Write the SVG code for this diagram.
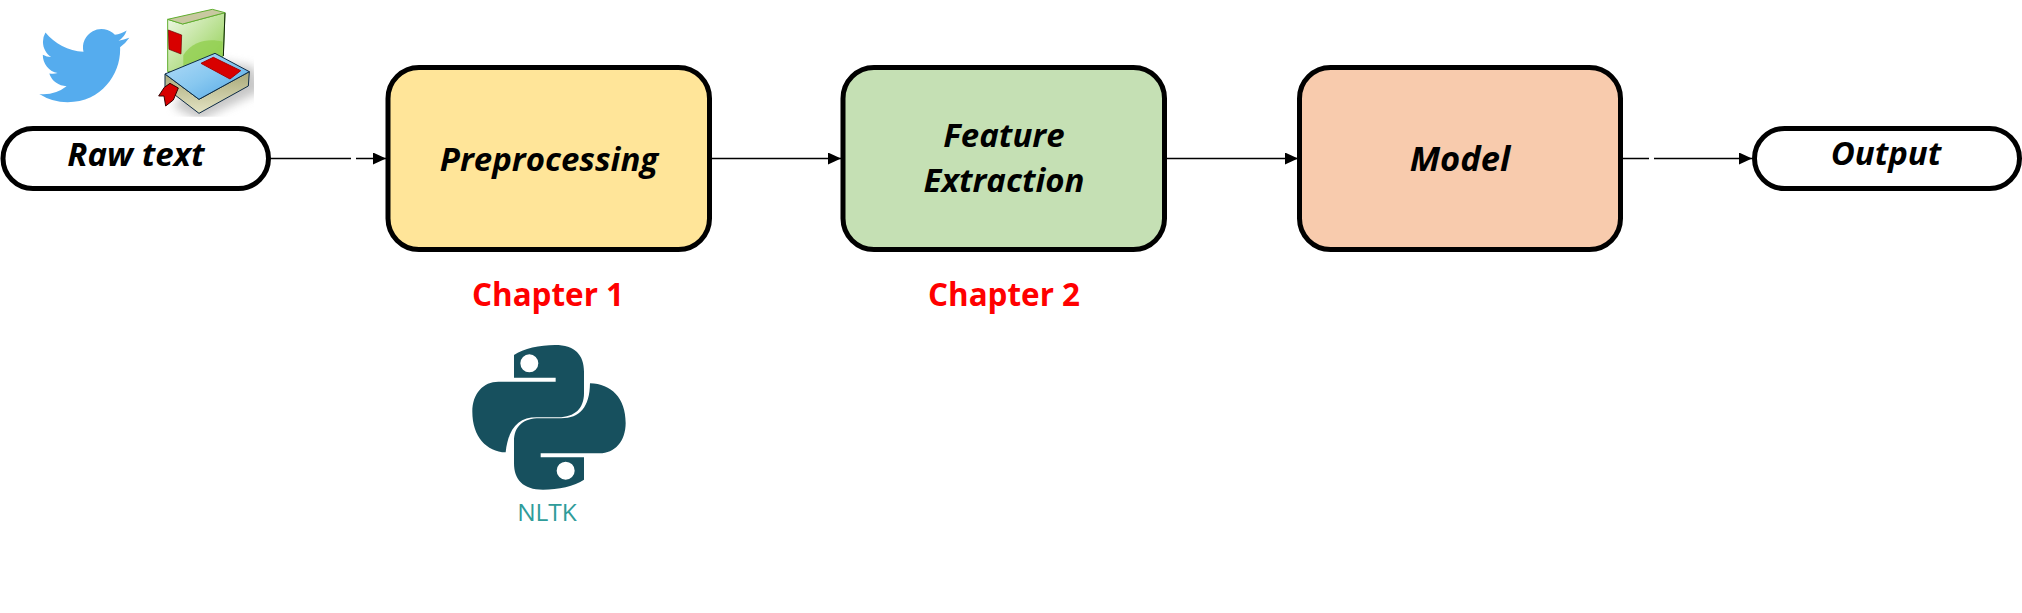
<svg xmlns="http://www.w3.org/2000/svg" width="2022" height="613" viewBox="0 0 2022 613">
<style>
.box{stroke:#000;stroke-width:5}
.lbl{font-family:"Open Sans","Noto Sans",sans-serif;font-weight:700;font-style:italic;font-size:33px;fill:#000;text-anchor:middle}
.ch{font-family:"Open Sans","Noto Sans",sans-serif;font-weight:700;font-size:31.4px;fill:#f00;text-anchor:middle}
.conn{stroke:#000;stroke-width:1.4;fill:none}
</style>
<defs>
<marker id="arr" markerUnits="userSpaceOnUse" markerWidth="13" markerHeight="12" refX="13" refY="6" orient="auto"><path d="M0 0L13 6L0 12Z" fill="#000"/></marker>
<linearGradient id="gGreen" x1="0" y1="0" x2="1" y2="1"><stop offset="0" stop-color="#f2f8ea"/><stop offset=".5" stop-color="#bfe39a"/><stop offset="1" stop-color="#8ccc48"/></linearGradient>
<linearGradient id="gBlue" x1="0" y1="0" x2="1" y2="1"><stop offset="0" stop-color="#b4dcf8"/><stop offset=".5" stop-color="#88c8f0"/><stop offset="1" stop-color="#4ea4e4"/></linearGradient>
<linearGradient id="gPage" x1="0" y1="0" x2="0" y2="1"><stop offset="0" stop-color="#a8a878"/><stop offset="1" stop-color="#e4e4c4"/></linearGradient>
<filter id="soft" x="-30%" y="-30%" width="160%" height="160%"><feGaussianBlur stdDeviation="14"/></filter>
<clipPath id="bookClip"><rect x="460" y="20" width="302" height="330"/></clipPath>
</defs>
<g id="connectors">
<path class="conn" d="M270 158.500H351M356 158.500H386" marker-end="url(#arr)"/>
<path class="conn" d="M712 158.500H841" marker-end="url(#arr)"/>
<path class="conn" d="M1167 158.500H1298" marker-end="url(#arr)"/>
<path class="conn" d="M1623 158.500H1649M1654 158.500H1752" marker-end="url(#arr)"/>
</g>
<g id="node-raw-text">
<rect class="box" x="3" y="128.500" width="265.500" height="60" rx="30" fill="#fff"/>
<text class="lbl" x="136" y="166">Raw text</text>
</g>
<g id="node-preprocessing">
<rect class="box" x="388" y="67.500" width="321.500" height="182" rx="31" fill="#ffe599"/>
<text class="lbl" x="549" y="170.500">Preprocessing</text>
</g>
<g id="node-feature-extraction">
<rect class="box" x="843" y="67.500" width="321.500" height="182" rx="31" fill="#c5e0b4"/>
<text class="lbl" x="1004" y="147">Feature</text>
<text class="lbl" x="1004" y="192">Extraction</text>
</g>
<g id="node-model">
<rect class="box" x="1299.500" y="67.500" width="321" height="182" rx="31" fill="#f8cbad"/>
<text class="lbl" x="1460" y="170.500" style="font-size:34.500px">Model</text>
</g>
<g id="node-output">
<rect class="box" x="1754.500" y="128.500" width="265" height="60" rx="30" fill="#fff"/>
<text class="lbl" x="1886" y="165">Output</text>
</g>
<g id="label-chapter-1"><text class="ch" x="548" y="306">Chapter 1</text></g>
<g id="label-chapter-2"><text class="ch" x="1004" y="306">Chapter 2</text></g>
<g id="icon-twitter">
<path fill="#55acee" transform="translate(39.300 20.600) scale(3.750)" d="M23.953 4.57a10 10 0 01-2.825.775 4.958 4.958 0 002.163-2.723c-.951.555-2.005.959-3.127 1.184a4.92 4.92 0 00-8.384 4.482C7.69 8.095 4.067 6.13 1.64 3.162a4.822 4.822 0 00-.666 2.475c0 1.71.87 3.213 2.188 4.096a4.904 4.904 0 01-2.228-.616v.06a4.923 4.923 0 003.946 4.827 4.996 4.996 0 01-2.212.085 4.936 4.936 0 004.604 3.417 9.867 9.867 0 01-6.102 2.105c-.39 0-.779-.023-1.17-.067a13.995 13.995 0 007.557 2.209c9.053 0 13.998-7.496 13.998-13.985 0-.21 0-.42-.015-.63A9.935 9.935 0 0024 4.59z"/>
</g>
<g id="icon-books" transform="scale(.33333)">
<g clip-path="url(#bookClip)"><path d="M640 180L760 200L790 270L600 360L520 320Z" fill="#9a9a9a" opacity=".55" filter="url(#soft)"/></g>
<path d="M503 58L548 72L675 38L670 168L548 215L503 215Z" fill="url(#gGreen)" stroke="#5fae2e" stroke-width="3" stroke-linejoin="round"/>
<path d="M675 38L670 168" stroke="#12240a" stroke-width="3" fill="none"/>
<path d="M503 58L637 28L675 38L548 72Z" fill="#c8c8a0" stroke="#5fae2e" stroke-width="3" stroke-linejoin="round"/>
<path d="M550 165C580 120 630 115 668 125L666 165L550 200Z" fill="#92d050" opacity=".8"/>
<path d="M505 90L545 105L543 162L507 148Z" fill="#d80000" stroke="#600" stroke-width="2"/>
<g stroke="#0c2a44" stroke-width="3" stroke-linejoin="round">
<path d="M495 222L597 298L748 215L745 258L597 340L495 262Z" fill="url(#gPage)"/>
<path d="M495 222L645 160L748 215L597 298Z" fill="url(#gBlue)"/>
<path d="M603 190L640 172L722 212L690 237Z" fill="#d80000" stroke="#a00"/>
<path d="M476 288L493 262L510 250L535 264L520 300L497 318L492 288Z" fill="#d80000" stroke="#300"/>
</g>
</g>
<g id="node-nltk">
<g transform="translate(440 330) scale(.33333)" fill="#17505e">
<path fill-rule="evenodd" d="M222 75C250 55 300 45 345 45C405 45 432 75 432 125V190C432 235 405 262 355 262H290C235 262 205 295 197 367C140 365 97 320 97 245C97 190 130 155 175 155H347V143H222ZM268 73A27 27 0 1 0 268 127A27 27 0 1 0 268 73Z"/>
<path fill-rule="evenodd" d="M432 449C404 469 354 479 309 479C249 479 222 449 222 399V334C222 289 249 265 299 265H364C419 265 449 232 450 160C514 162 557 204 557 279C557 334 524 370 479 370H302V382H432ZM377 395A27 27 0 1 0 377 449A27 27 0 1 0 377 395Z"/>
</g>
<text x="547" y="521" font-family="'Open Sans','Noto Sans',sans-serif" font-size="24.500" fill="#2f9c9a" text-anchor="middle">NLTK</text>
</g>
</svg>
